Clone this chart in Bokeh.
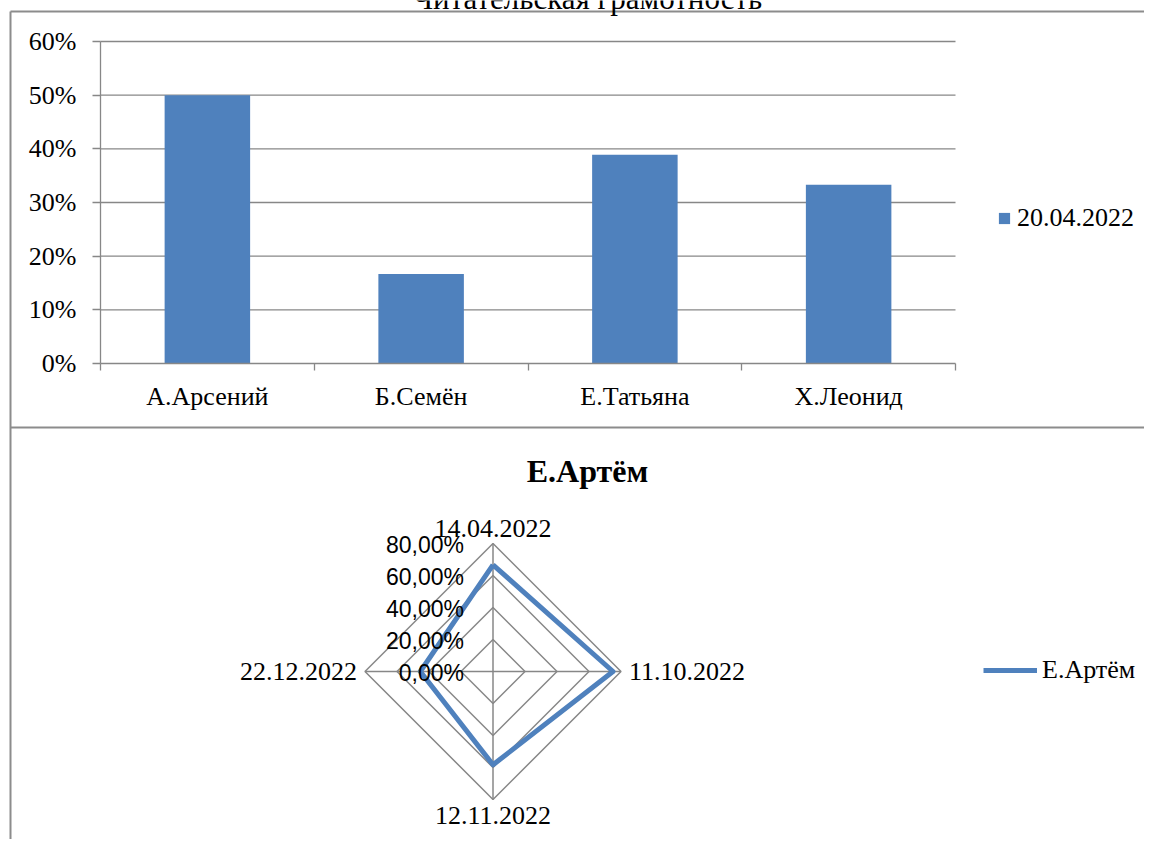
import math
from bokeh.plotting import figure
from bokeh.models import (Range1d, FixedTicker, NumeralTickFormatter, Legend, LegendItem,
                          ColumnDataSource)
from bokeh.embed import file_html
from bokeh.resources import INLINE
from bokeh.core.properties import value

# ---------------- data ----------------
chart_title = "Читательская грамотность"
students = ["А.Арсений", "Б.Семён", "Е.Татьяна", "Х.Леонид"]
bar_series = "20.04.2022"
scores_20_04 = [0.50, 0.1667, 0.3889, 0.3333]
y_ticks = [0.0, 0.1, 0.2, 0.3, 0.4, 0.5, 0.6]

radar_title = "Е.Артём"
radar_dates = ["14.04.2022", "11.10.2022", "12.11.2022", "22.12.2022"]
radar_values = [0.6667, 0.75, 0.5833, 0.4545]
radar_levels = [0.0, 0.2, 0.4, 0.6, 0.8]
radar_level_labels = ["0,00%", "20,00%", "40,00%", "60,00%", "80,00%"]

# ---------------- style / layout ----------------
BLUE = "#4f81bd"
GRAY = "#878787"
BORDER = "#8c8c8c"
SERIF = "Liberation Serif"
SANS = "Liberation Sans"
FS = "26px"
W, H = 1144, 839

# bar-chart plot area (pixels)
PX_L, PX_R, PY_T, PY_B = 100, 955, 41, 363
kx = (PX_R - PX_L) / len(students)
ky = (PY_B - PY_T) / y_ticks[-1]
# radar geometry (pixels)
RCX, RCY, RK = 492.5, 671, 160.0


def xd(px):
    return (px - PX_L) / kx


def yd(py):
    return (PY_B - py) / ky


def rxd(px):
    return (px - RCX) / RK


def ryd(py):
    return (RCY - py) / RK


p = figure(width=W, height=H,
           x_range=Range1d(xd(0), xd(W)), y_range=Range1d(yd(H), yd(0)),
           extra_x_ranges={"rx": Range1d(rxd(0), rxd(W))},
           extra_y_ranges={"ry": Range1d(ryd(H), ryd(0))},
           min_border=0, output_backend="svg", toolbar_location=None,
           outline_line_color=None, background_fill_color="white",
           border_fill_color="white")
p.grid.visible = False

# ---------- panel borders ----------
p.segment(x0=[xd(10), xd(10), xd(10)], x1=[xd(W), xd(10), xd(W)],
          y0=[yd(11), yd(11), yd(427)], y1=[yd(11), yd(H), yd(427)],
          line_color=BORDER, line_width=2)

# ---------- title of the bar chart (cut at the top edge as in the source) ----------
p.text(x=[xd(587)], y=[yd(-2)], text=[chart_title], text_align="center",
       text_baseline="middle", text_font=value(SERIF), text_font_size="31px",
       text_color="black")

# ---------- bar chart ----------
n_cat = len(students)
p.segment(x0=[0] * (len(y_ticks) - 1), x1=[n_cat] * (len(y_ticks) - 1),
          y0=y_ticks[1:], y1=y_ticks[1:], line_color=GRAY, line_width=1.3)

xpos = [i + 0.5 for i in range(n_cat)]
src = ColumnDataSource(dict(x=xpos, top=scores_20_04, name=students))
bars = p.vbar(x="x", top="top", width=0.4, source=src, fill_color=BLUE, line_color=None)

xa = p.xaxis[0]
xa.fixed_location = 0
xa.bounds = (0, n_cat)
xa.ticker = FixedTicker(ticks=xpos, minor_ticks=list(range(n_cat + 1)))
xa.major_label_overrides = {x: s for x, s in zip(xpos, students)}
xa.major_tick_line_color = None
xa.major_tick_out = 0
xa.major_tick_in = 0
xa.minor_tick_out = 7
xa.minor_tick_in = 0
xa.minor_tick_line_color = GRAY
xa.minor_tick_line_width = 1.3
xa.axis_line_color = GRAY
xa.axis_line_width = 1.3
xa.major_label_text_font = SERIF
xa.major_label_text_font_size = FS
xa.major_label_text_color = "black"
xa.major_label_standoff = 11

ya = p.yaxis[0]
ya.fixed_location = 0
ya.bounds = (0, y_ticks[-1])
ya.ticker = FixedTicker(ticks=y_ticks)
ya.formatter = NumeralTickFormatter(format="0%")
ya.major_tick_out = 8
ya.major_tick_in = 0
ya.minor_tick_line_color = None
ya.major_tick_line_color = GRAY
ya.major_tick_line_width = 1.3
ya.axis_line_color = GRAY
ya.axis_line_width = 1.3
ya.major_label_text_font = SERIF
ya.major_label_text_font_size = FS
ya.major_label_text_color = "black"
ya.major_label_standoff = 16

leg1 = Legend(items=[LegendItem(label=bar_series, renderers=[bars])],
              location=(997, H - 233), glyph_width=14, glyph_height=14, label_height=14,
              label_standoff=6, padding=0, margin=0, spacing=0,
              border_line_color=None, background_fill_alpha=0,
              label_text_font=SERIF, label_text_font_size=FS, label_text_color="black")
p.add_layout(leg1)

# ---------- radar chart ----------
n = len(radar_dates)
angles = [2 * math.pi * i / n for i in range(n)]
rmax = radar_levels[-1]

ring_xs, ring_ys = [], []
for lvl in radar_levels[1:]:
    ring_xs.append([lvl * math.sin(a) for a in angles] + [0.0])
    ring_ys.append([lvl * math.cos(a) for a in angles] + [lvl])
p.multi_line(ring_xs, ring_ys, line_color=GRAY, line_width=1.5,
             x_range_name="rx", y_range_name="ry")
p.segment(x0=[0] * n, y0=[0] * n,
          x1=[rmax * math.sin(a) for a in angles],
          y1=[rmax * math.cos(a) for a in angles],
          line_color=GRAY, line_width=1.5, x_range_name="rx", y_range_name="ry")

dx = [v * math.sin(a) for v, a in zip(radar_values, angles)]
dy = [v * math.cos(a) for v, a in zip(radar_values, angles)]
rline = p.line(dx + dx[:1], dy + dy[:1], line_color=BLUE, line_width=5, line_join="round",
               x_range_name="rx", y_range_name="ry")


def _align(s):
    return "center" if abs(s) < 1e-6 else ("left" if s > 0 else "right")


def _base(c):
    return "middle" if abs(c) < 1e-6 else ("bottom" if c > 0 else "top")


cat_src = ColumnDataSource(dict(
    x=[rmax * math.sin(a) for a in angles],
    y=[rmax * math.cos(a) for a in angles],
    text=radar_dates,
    align=[_align(math.sin(a)) for a in angles],
    base=[_base(math.cos(a)) for a in angles],
    xo=[8 * math.sin(a) for a in angles],
    yo=[-7 * math.cos(a) for a in angles],
))
p.text(x="x", y="y", text="text", source=cat_src, text_align="align", text_baseline="base",
       x_offset="xo", y_offset="yo", text_font=value(SERIF), text_font_size=FS,
       text_color="black", x_range_name="rx", y_range_name="ry")

p.text(x=[0.0] * len(radar_levels), y=radar_levels, text=radar_level_labels,
       text_align="right", text_baseline="middle", x_offset=-29, y_offset=1,
       text_font=value(SANS), text_font_size="23px", text_color="black",
       x_range_name="rx", y_range_name="ry")

p.text(x=[rxd(587)], y=[ryd(470)], text=[radar_title], text_align="center",
       text_baseline="middle", text_font=value(SERIF), text_font_size="32px",
       text_font_style="bold", text_color="black", x_range_name="rx", y_range_name="ry")

leg2 = Legend(items=[LegendItem(label=radar_title, renderers=[rline])],
              location=(983, H - 685), glyph_width=54, glyph_height=20,
              label_standoff=5, padding=0, margin=0, spacing=0,
              border_line_color=None, background_fill_alpha=0,
              label_text_font=SERIF, label_text_font_size=FS, label_text_color="black")
p.add_layout(leg2)

open("out.html", "w").write(file_html(p, INLINE))
